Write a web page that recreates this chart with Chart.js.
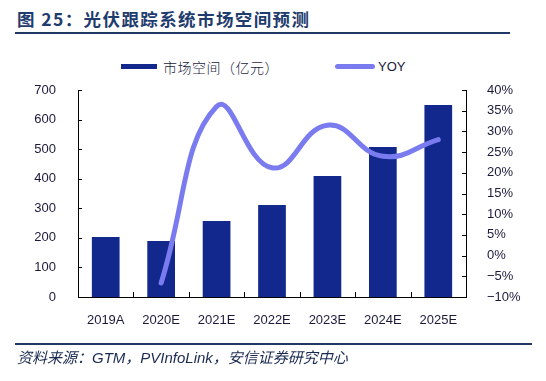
<!DOCTYPE html>
<html lang="zh">
<head>
  <meta charset="UTF-8">
  <title>光伏跟踪系统市场空间预测</title>
  <script src="https://cdn.jsdelivr.net/npm/chart.js"></script>
  <style>
    body {
      margin: 0;
      width: 546px;
      height: 381px;
      background: #ffffff;
      position: relative;
      overflow: hidden;
      font-family: "Liberation Sans", Arial, sans-serif;
    }
    .title {
      position: absolute;
      left: 17px;
      top: 6px;
      font-family: "Noto Sans CJK SC", sans-serif;
      font-weight: bold;
      font-size: 17.5px;
      letter-spacing: 1.4px;
      color: #1f3c6e;
    }
    .rule {
      position: absolute;
      height: 1.5px;
      background: #1f3864;
    }
    .legend {
      position: absolute;
      top: 57px;
      font-size: 14px;
      color: #1a1a3c;
      font-family: "Noto Sans CJK SC", sans-serif;
      font-weight: 300;
    }
    .swatch {
      position: absolute;
      height: 5px;
    }
    .source {
      position: absolute;
      left: 17px;
      top: 346px;
      font-size: 15px;
      font-style: italic;
      color: #1a2a50;
      font-family: "Liberation Sans", "Noto Sans CJK SC", sans-serif;
    }
    canvas {
      position: absolute;
      left: 0;
      top: 0;
    }
  </style>
</head>
<body>
  <div class="title">图 25：光伏跟踪系统市场空间预测</div>
  <div class="rule" style="left:15px; width:495px; top:32px;"></div>

  <div class="swatch" style="left:121px; width:36px; top:64px; background:#13288c;"></div>
  <div class="legend" style="left:163px; letter-spacing:0.5px;">市场空间（亿元）</div>
  <div class="swatch" style="left:335px; width:40px; top:64px; background:#7b7bf0; border-radius:3px;"></div>
  <div class="legend" style="left:378px; font-family:'Liberation Sans', Arial, sans-serif; font-size:13px; top:59px;">YOY</div>

  <canvas id="chart" width="546" height="381"></canvas>

  <div class="rule" style="left:15px; width:517px; top:343px;"></div>
  <div class="source">资料来源：GTM，PVInfoLink，安信证券研究中心</div>

  <script>
    // data
    const years = ['2019A', '2020E', '2021E', '2022E', '2023E', '2024E', '2025E'];
    const marketSize = [203, 189, 257, 311, 409, 507, 649];
    const yoy = [null, -6.6, 36.0, 21.2, 31.5, 24.0, 28.0];
    const leftTicks = [0, 100, 200, 300, 400, 500, 600, 700];
    const rightTicks = [-10, -5, 0, 5, 10, 15, 20, 25, 30, 35, 40];

    const barColor = '#13288c';
    const lineColor = '#7b7bf0';
    const labelColor = '#1a1a3c';
    const tickFont = { size: 13, family: '"Liberation Sans", Arial' };

    // small inward tick marks like the original
    const innerTicks = {
      id: 'innerTicks',
      afterDraw(chart) {
        const ctx = chart.ctx;
        const area = chart.chartArea;
        const y = chart.scales.y;
        const y1 = chart.scales.y1;
        const x = chart.scales.x;
        ctx.save();
        ctx.strokeStyle = '#000';
        ctx.lineWidth = 1;
        ctx.beginPath();
        leftTicks.forEach(v => {
          const py = Math.round(y.getPixelForValue(v)) + 0.5;
          ctx.moveTo(area.left, py);
          ctx.lineTo(area.left + 4, py);
        });
        rightTicks.forEach(v => {
          const py = Math.round(y1.getPixelForValue(v)) + 0.5;
          ctx.moveTo(area.right, py);
          ctx.lineTo(area.right - 4, py);
        });
        for (let i = 1; i < years.length; i++) {
          const px = Math.round((x.getPixelForValue(i - 1) + x.getPixelForValue(i)) / 2) + 0.5;
          ctx.moveTo(px, area.bottom);
          ctx.lineTo(px, area.bottom - 5);
        }
        ctx.stroke();
        ctx.restore();
      }
    };

    new Chart(document.getElementById('chart'), {
      data: {
        labels: years,
        datasets: [
          {
            type: 'line',
            label: 'YOY',
            data: yoy,
            yAxisID: 'y1',
            borderColor: lineColor,
            backgroundColor: lineColor,
            borderWidth: 5,
            borderCapStyle: 'round',
            tension: 0.45,
            pointRadius: 0,
            spanGaps: false,
            order: 0
          },
          {
            type: 'bar',
            label: '市场空间（亿元）',
            data: marketSize,
            yAxisID: 'y',
            backgroundColor: barColor,
            categoryPercentage: 1,
            barPercentage: 0.5,
            order: 1
          }
        ]
      },
      options: {
        responsive: false,
        animation: false,
        layout: { padding: { top: 90, left: 0, right: 0, bottom: 0 } },
        plugins: {
          legend: { display: false },
          tooltip: { enabled: false }
        },
        scales: {
          x: {
            grid: { display: false },
            border: { display: true, color: '#000', width: 1 },
            ticks: {
              color: labelColor,
              font: tickFont,
              padding: 8,
              maxRotation: 0
            },
            afterFit(scale) { scale.height = 84; }
          },
          y: {
            position: 'left',
            min: 0,
            max: 700,
            grid: { display: false },
            border: { display: true, color: '#000', width: 1 },
            ticks: {
              stepSize: 100,
              color: labelColor,
              font: tickFont,
              padding: 14
            },
            afterFit(scale) { scale.width = 78; }
          },
          y1: {
            position: 'right',
            min: -10,
            max: 40,
            grid: { display: false },
            border: { display: true, color: '#000', width: 1 },
            ticks: {
              stepSize: 5,
              color: labelColor,
              font: tickFont,
              padding: 13,
              callback: v => (v < 0 ? '\u2212' + Math.abs(v) : v) + '%'
            },
            afterFit(scale) { scale.width = 80; }
          }
        }
      },
      plugins: [innerTicks]
    });
  </script>
</body>
</html>
